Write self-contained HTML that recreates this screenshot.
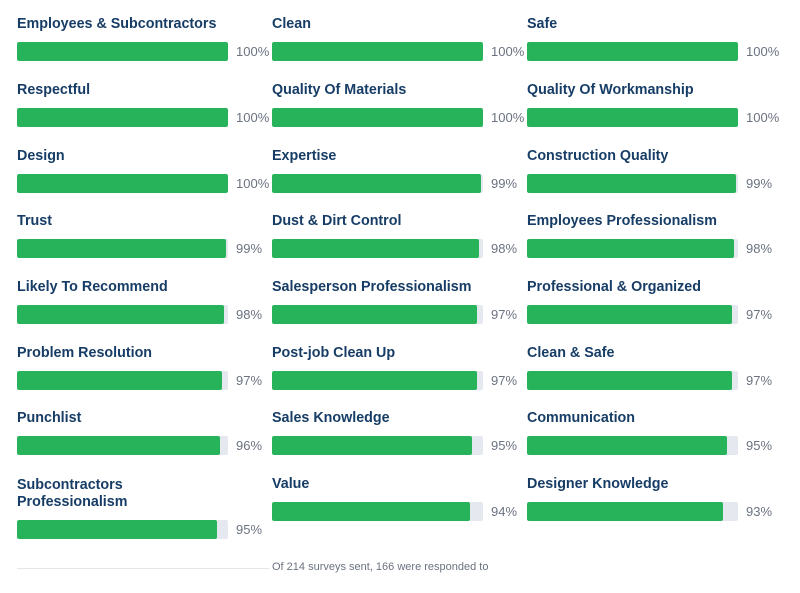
<!DOCTYPE html>
<html><head><style>
body{margin:0;width:800px;height:593px;background:#fff;font-family:"Liberation Sans",Arial,sans-serif;position:relative;overflow:hidden}
.l{position:absolute;font-weight:bold;font-size:14.3px;color:#173d66;line-height:17px}
.b{position:absolute;width:211px;height:19px;background:#e5e8ee;border-radius:2px;overflow:hidden}
.b i{display:block;height:100%;background:#27b35a;border-radius:2px}
.p{position:absolute;font-size:13px;color:#6b7280;line-height:19px}
.f{position:absolute;left:272px;top:561px;font-size:11px;color:#6b7280}
.hr{position:absolute;left:17px;top:568px;width:252px;height:1px;background:#e3e6ea}
</style></head><body>
<div id="c"></div>
<script>
var d=[["Employees & Subcontractors",100,"Clean",100,"Safe",100],
["Respectful",100,"Quality Of Materials",100,"Quality Of Workmanship",100],
["Design",100,"Expertise",99,"Construction Quality",99],
["Trust",99,"Dust & Dirt Control",98,"Employees Professionalism",98],
["Likely To Recommend",98,"Salesperson Professionalism",97,"Professional & Organized",97],
["Problem Resolution",97,"Post-job Clean Up",97,"Clean & Safe",97],
["Punchlist",96,"Sales Knowledge",95,"Communication",95],
["Subcontractors<br>Professionalism",95,"Value",94,"Designer Knowledge",93]];
var tops=[42,108,174,239,305,371,436,502],xs=[17,272,527],h="";
d.forEach(function(r,i){for(var c=0;c<3;c++){var t=tops[i];if(i==7&&c==0)t=520;
var lt=(i==7&&c==0)?477:tops[i]-26;
h+='<div class="l" style="left:'+xs[c]+'px;top:'+lt+'px">'+r[c*2]+'</div>';
var v=r[c*2+1];
h+='<div class="b" style="left:'+xs[c]+'px;top:'+t+'px"><i style="width:'+v+'%"></i></div>';
h+='<div class="p" style="left:'+(xs[c]+219)+'px;top:'+t+'px">'+v+'%</div>';}});
document.getElementById("c").innerHTML=h;
</script>
<div class="hr"></div>
<div class="f">Of 214 surveys sent, 166 were responded to</div>
</body></html>
